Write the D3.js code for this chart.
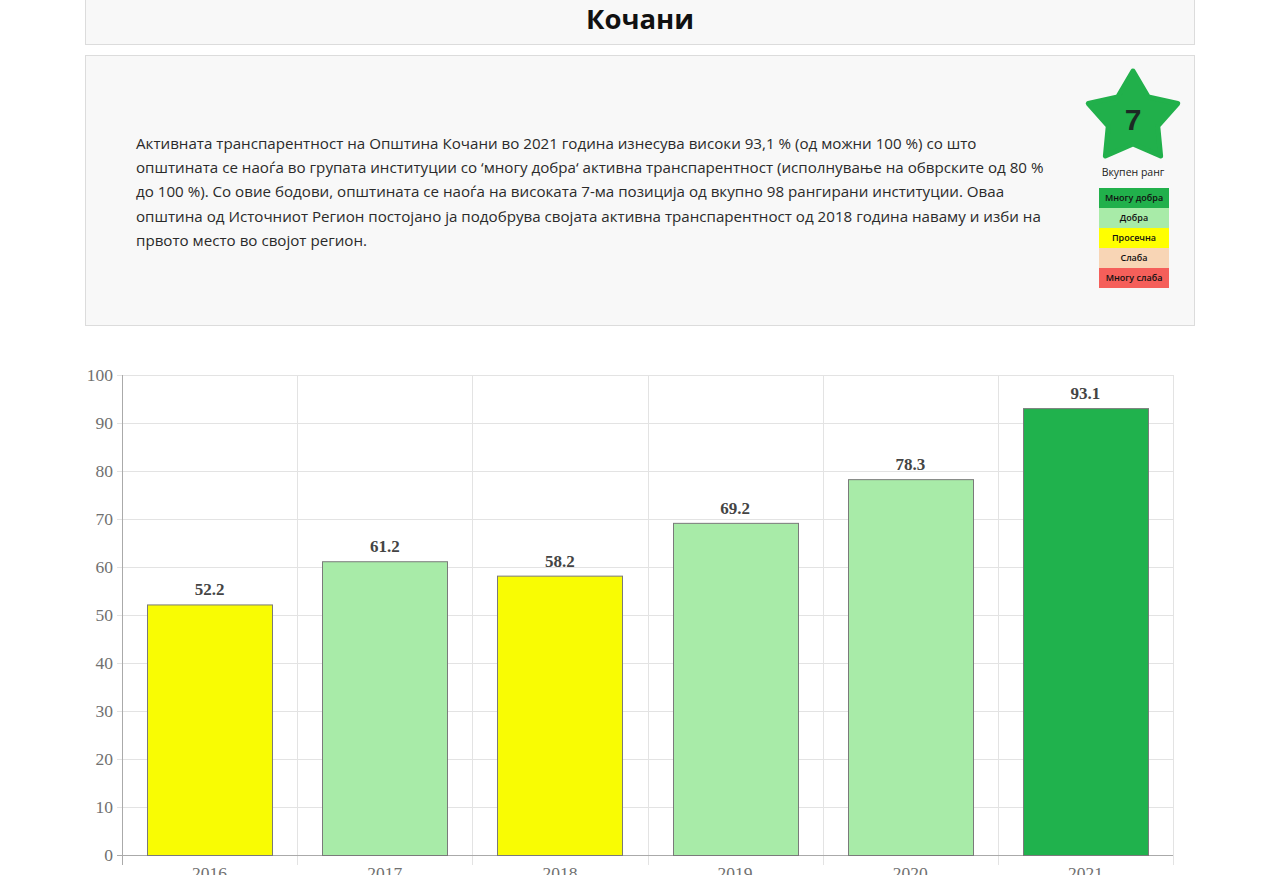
<!DOCTYPE html>
<html><head><meta charset="utf-8">
<script src="https://cdn.jsdelivr.net/npm/d3@7"></script>
<style>
html,body{margin:0;padding:0;background:#fff;overflow:hidden;}
</style></head>
<body>
<svg id="c" width="1261" height="875"></svg>
<script>
const title = "Кочани";
const paragraphLines = [
  "Активната транспарентност на Општина Кочани во 2021 година изнесува високи 93,1 % (од можни 100 %) со што",
  "општината се наоѓа во групата институции со ‘многу добра‘ активна транспарентност (исполнување на обврските од 80 %",
  "до 100 %). Со овие бодови, општината се наоѓа на високата 7-ма позиција од вкупно 98 рангирани институции. Оваа",
  "општина од Источниот Регион постојано ја подобрува својата активна транспарентност од 2018 година наваму и изби на",
  "првото место во својот регион."
];
const rank = "7";
const rankLabel = "Вкупен ранг";
const legendLabels = ["Многу добра","Добра","Просечна","Слаба","Многу слаба"];
const legendColors = ["#21b04b","#a8eba8","#ffff00","#f8d5b5","#f55f5a"];
const years = ["2016","2017","2018","2019","2020","2021"];
const values = [52.2, 61.2, 58.2, 69.2, 78.3, 93.1];
const barColors = ["#f9fc03","#a8eba8","#f9fc03","#a8eba8","#a8eba8","#20b24d"];
const yTicks = [0,10,20,30,40,50,60,70,80,90,100];

const svg = d3.select("#c");

// title box
svg.append("rect").attr("x",85.5).attr("y",-5).attr("width",1109).attr("height",49.5)
  .attr("fill","#f8f8f8").attr("stroke","#dcdcdc");
svg.append("text").attr("x",640).attr("y",29).attr("text-anchor","middle")
  .attr("font-family","'Open Sans', 'Noto Sans', sans-serif").attr("font-weight","bold")
  .attr("font-size",27.5).attr("fill","#111").text(title);

// info box
svg.append("rect").attr("x",85.5).attr("y",55.5).attr("width",1109).attr("height",270)
  .attr("fill","#f8f8f8").attr("stroke","#dcdcdc");
const para = svg.append("text").attr("font-family","'Open Sans', 'Noto Sans', sans-serif")
  .attr("font-size",15.15).attr("fill","#2a2a2a");
para.selectAll("tspan").data(paragraphLines).join("tspan")
  .attr("x",136).attr("y",(d,i)=>149+i*24.2).text(d=>d);

// star
const cx=1133, cy=118, R=47, r=26;
const pts = d3.range(10).map(i=>{
  const a = -Math.PI/2 + i*Math.PI/5;
  const rr = i%2===0?R:r;
  return [cx+rr*Math.cos(a), cy+rr*Math.sin(a)];
});
svg.append("path").attr("d", d3.line()(pts)+"Z")
  .attr("fill","#21b04b").attr("stroke","#21b04b").attr("stroke-width",5).attr("stroke-linejoin","round");
svg.append("text").attr("x",cx).attr("y",130).attr("text-anchor","middle")
  .attr("font-family","'Liberation Sans', Arial, sans-serif").attr("font-weight","bold")
  .attr("font-size",30).attr("fill","#1c2a24").text(rank);
svg.append("text").attr("x",cx).attr("y",176).attr("text-anchor","middle")
  .attr("font-family","'Open Sans', 'Noto Sans', sans-serif")
  .attr("font-size",10.5).attr("fill","#222").text(rankLabel);
const lg = svg.append("g");
legendLabels.forEach((l,i)=>{
  lg.append("rect").attr("x",1099).attr("y",188+i*20).attr("width",70).attr("height",20).attr("fill",legendColors[i]);
  lg.append("text").attr("x",1134).attr("y",201+i*20).attr("text-anchor","middle")
    .attr("font-family","'Open Sans', 'Noto Sans', sans-serif").attr("font-size",9).attr("font-weight","600")
    .attr("fill","#111").text(l);
});

// chart
const m = {left:122, right:1173, top:375, bottom:855};
const x = d3.scaleBand().domain(years).range([m.left,m.right]).paddingInner(0).paddingOuter(0);
const y = d3.scaleLinear().domain([0,100]).range([m.bottom,m.top]);
const g = svg.append("g");

// horizontal grid
g.selectAll("line.h").data(yTicks).join("line")
  .attr("x1",m.left-5).attr("x2",m.right).attr("y1",d=>y(d)+0.5).attr("y2",d=>y(d)+0.5)
  .attr("stroke",d=>d===0?"#999":"#e3e3e3").attr("stroke-width",1);
// vertical grid
const vx = years.map(yy=>x(yy)+x.bandwidth());
g.selectAll("line.v").data(vx).join("line")
  .attr("x1",d=>Math.round(d)+0.5).attr("x2",d=>Math.round(d)+0.5).attr("y1",m.top).attr("y2",m.bottom+10)
  .attr("stroke","#e3e3e3");
// y axis line
g.append("line").attr("x1",m.left+0.5).attr("x2",m.left+0.5).attr("y1",m.top).attr("y2",m.bottom+10)
  .attr("stroke","#aaa");
// redraw zero line
g.append("line").attr("x1",m.left-5).attr("x2",m.right).attr("y1",y(0)+0.5).attr("y2",y(0)+0.5).attr("stroke","#aaa");

// y tick labels
g.selectAll("text.yt").data(yTicks).join("text")
  .attr("x",m.left-9).attr("y",d=>y(d)+6).attr("text-anchor","end")
  .attr("font-family","'Liberation Serif', 'Times New Roman', serif").attr("font-size",17.5)
  .attr("fill","#707070").text(d=>d);

// x labels
g.selectAll("text.xt").data(years).join("text")
  .attr("x",d=>x(d)+x.bandwidth()/2).attr("y",m.bottom+24).attr("text-anchor","middle")
  .attr("font-family","'Liberation Serif', 'Times New Roman', serif").attr("font-size",17.5)
  .attr("fill","#707070").text(d=>d);

// bars
const bw = 125;
g.selectAll("rect.bar").data(values).join("rect")
  .attr("x",(d,i)=>Math.round(x(years[i])+(x.bandwidth()-bw)/2)+0.5)
  .attr("y",d=>y(d)+0.5).attr("width",bw).attr("height",d=>y(0)-y(d))
  .attr("fill",(d,i)=>barColors[i]).attr("stroke","#7a7a7a").attr("stroke-width",1);

// value labels
g.selectAll("text.val").data(values).join("text")
  .attr("x",(d,i)=>x(years[i])+x.bandwidth()/2).attr("y",d=>y(d)-9).attr("text-anchor","middle")
  .attr("font-family","'Liberation Serif', 'Times New Roman', serif").attr("font-weight","bold")
  .attr("font-size",17).attr("fill","#444").text(d=>d.toFixed(1));
</script>
</body></html>
